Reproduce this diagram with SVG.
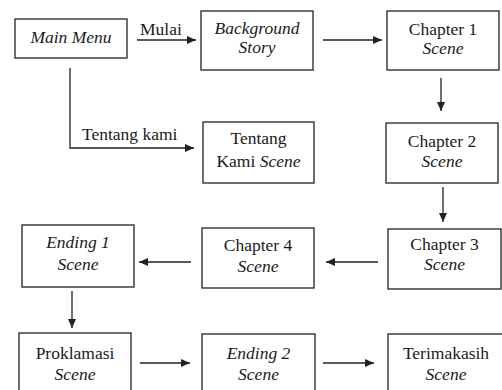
<svg xmlns="http://www.w3.org/2000/svg" width="502" height="390" viewBox="0 0 502 390" font-family="'Liberation Serif', 'DejaVu Serif', serif">
<style>
.box{fill:#fff;stroke:#222;stroke-width:1.3}
.t{font-family:'Liberation Serif','DejaVu Serif',serif;font-size:17.5px;fill:#1a1a1a}
.c{text-anchor:middle}
.i{font-style:italic}
.edge{fill:none;stroke:#222;stroke-width:1.3}
</style>
<defs>
<marker id="ah" markerUnits="userSpaceOnUse" markerWidth="10" markerHeight="9" refX="9" refY="4" orient="auto">
<path d="M0,0 L9,4 L0,8 z" fill="#222"/>
</marker>
</defs>
<rect width="502" height="390" fill="#fff"/>
<g id="connectors">
<path class="edge" d="M137,40 H196" marker-end="url(#ah)"/>
<text class="t" x="140" y="35">Mulai</text>
<path class="edge" d="M323,40 H382" marker-end="url(#ah)"/>
<path class="edge" d="M70,68 V148 H194" marker-end="url(#ah)"/>
<text class="t" x="82" y="140">Tentang kami</text>
<path class="edge" d="M441,78 V111" marker-end="url(#ah)"/>
<path class="edge" d="M443,187 V222" marker-end="url(#ah)"/>
<path class="edge" d="M378,262 H326" marker-end="url(#ah)"/>
<path class="edge" d="M191,262 H139" marker-end="url(#ah)"/>
<path class="edge" d="M72,291 V328" marker-end="url(#ah)"/>
<path class="edge" d="M140,363 H190" marker-end="url(#ah)"/>
<path class="edge" d="M323,363 H374" marker-end="url(#ah)"/>
</g>
<g id="main-menu"><rect class="box" x="15" y="19" width="112" height="39"/><text class="t c i" x="71" y="43">Main Menu</text></g>
<g id="background-story"><rect class="box" x="201" y="11" width="112" height="59"/><text class="t c i" x="257" y="34">Background</text><text class="t c i" x="257" y="53">Story</text></g>
<g id="chapter1"><rect class="box" x="387" y="11" width="112" height="59"/><text class="t c" x="443" y="35">Chapter 1</text><text class="t c i" x="443" y="54">Scene</text></g>
<g id="tentang-kami"><rect class="box" x="203" y="122" width="111" height="61"/><text class="t c" x="258.5" y="144">Tentang</text><text class="t c" x="258.5" y="167">Kami <tspan class="i">Scene</tspan></text></g>
<g id="chapter2"><rect class="box" x="386" y="123" width="112" height="60"/><text class="t c" x="442" y="147">Chapter 2</text><text class="t c i" x="442" y="167">Scene</text></g>
<g id="chapter3"><rect class="box" x="388" y="229" width="113" height="60"/><text class="t c" x="444.5" y="250">Chapter 3</text><text class="t c i" x="444.5" y="270">Scene</text></g>
<g id="chapter4"><rect class="box" x="202" y="228" width="112" height="60"/><text class="t c" x="258" y="251">Chapter 4</text><text class="t c i" x="258" y="272">Scene</text></g>
<g id="ending1"><rect class="box" x="22" y="225" width="112" height="62"/><text class="t c i" x="78" y="248">Ending 1</text><text class="t c i" x="78" y="270">Scene</text></g>
<g id="proklamasi"><rect class="box" x="19" y="333" width="112" height="70"/><text class="t c" x="75" y="359">Proklamasi</text><text class="t c i" x="75" y="380">Scene</text></g>
<g id="ending2"><rect class="box" x="202" y="334" width="113" height="70"/><text class="t c i" x="258.5" y="359">Ending 2</text><text class="t c i" x="258.5" y="380">Scene</text></g>
<g id="terimakasih"><rect class="box" x="388" y="334" width="120" height="70"/><text class="t c" x="446" y="359">Terimakasih</text><text class="t c i" x="446" y="380">Scene</text></g>
</svg>
